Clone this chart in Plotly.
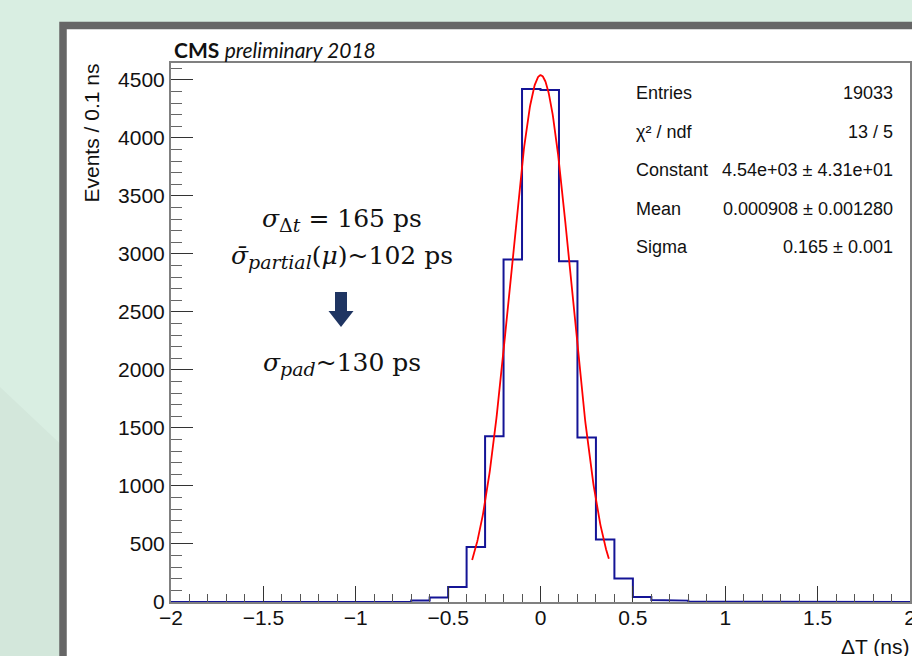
import numpy as np
import plotly.graph_objects as go

# ---------------- data ----------------
bin_width = 0.1
hist_range = [-2.0, 2.0]
bin_left_edges = [-0.9, -0.8, -0.7, -0.6, -0.5, -0.4, -0.3, -0.2, -0.1,
                  0.0, 0.1, 0.2, 0.3, 0.4, 0.5, 0.6, 0.7, 0.8]
bin_counts = [1, 3, 14, 38, 129, 474, 1428, 2952, 4422,
              4412, 2937, 1417, 538, 202, 43, 17, 12, 2]

fit_constant = 4540.0
fit_mean = 0.000908
fit_sigma = 0.165
fit_range = [-0.37, 0.37]

x_tickvals = [-2, -1.5, -1, -0.5, 0, 0.5, 1, 1.5, 2]
x_ticktext = ["\u22122", "\u22121.5", "\u22121", "\u22120.5", "0", "0.5", "1", "1.5", "2"]
y_tickvals = [0, 500, 1000, 1500, 2000, 2500, 3000, 3500, 4000, 4500]
y_max = 4645

stats_labels = ["Entries", "\u03c7\u00b2 / ndf", "Constant", "Mean", "Sigma"]
stats_values = ["19033", "13 / 5", "4.54e+03 \u00b1 4.31e+01",
                "0.000908 \u00b1 0.001280", "0.165 \u00b1 0.001"]

SUB = '<sub><span style="font-size:19px">{}</span></sub>'
note_lines = [
    "<i>\u03c3</i>" + SUB.format("\u0394<i>t</i>") + " = 165 ps",
    "<i>\u03c3\u0304</i>" + SUB.format("<i>partial</i>") + "(<i>\u03bc</i>)~102 ps",
    "<i>\u03c3</i>" + SUB.format("<i>pad</i>") + "~130 ps",
]

# ---------------- layout geometry (pixels) ----------------
W, H = 912, 656
L, R, T, B = 171, 2, 63, 54
PW, PH = W - L - R, H - T - B


def px(x):
    return (x - L) / PW


def py(y):
    return (H - B - y) / PH


# ---------------- build step histogram over full range ----------------
n_bins = int(round((hist_range[1] - hist_range[0]) / bin_width))
edges = [round(hist_range[0] + i * bin_width, 3) for i in range(n_bins + 1)]
counts_full = [0] * n_bins
for le, c in zip(bin_left_edges, bin_counts):
    idx = int(round((le - hist_range[0]) / bin_width))
    counts_full[idx] = c
step_x = [edges[0]]
step_y = [0]
for i in range(n_bins):
    step_x += [edges[i], edges[i + 1]]
    step_y += [counts_full[i], counts_full[i]]
step_x.append(edges[-1])
step_y.append(0)

fit_x = np.linspace(fit_range[0], fit_range[1], 300)
fit_y = fit_constant * np.exp(-0.5 * ((fit_x - fit_mean) / fit_sigma) ** 2)

fig = go.Figure()
fig.add_trace(go.Scatter(x=step_x, y=step_y, mode="lines",
                         line=dict(color="#141496", width=2),
                         hoverinfo="skip", showlegend=False))
fig.add_trace(go.Scatter(x=fit_x, y=fit_y, mode="lines",
                         line=dict(color="#ff0000", width=1.8),
                         hoverinfo="skip", showlegend=False))

axis_font = dict(family="Liberation Sans, Arial, sans-serif", size=21, color="#111111")

fig.update_xaxes(range=hist_range, tickvals=x_tickvals, ticktext=x_ticktext,
                 ticks="inside", ticklen=16, tickwidth=1.2, tickcolor="#333333",
                 minor=dict(dtick=0.1, ticks="inside", ticklen=8, tickcolor="#555555", tickwidth=1),
                 showline=True, linecolor="#808080", linewidth=2, mirror=True,
                 showgrid=False, zeroline=False, tickfont=axis_font, ticklabelstandoff=-4,
                 ticklabeloverflow="allow", automargin=False)
fig.update_yaxes(range=[0, y_max], tickvals=y_tickvals,
                 ticks="inside", ticklen=22, tickwidth=1.2, tickcolor="#333333",
                 minor=dict(dtick=100, ticks="inside", ticklen=11, tickcolor="#666666", tickwidth=1),
                 showline=True, linecolor="#808080", linewidth=2, mirror=True,
                 showgrid=False, zeroline=False, tickfont=axis_font, automargin=False)

shapes = []
# lighter background region
shapes.append(dict(type="path", xref="paper", yref="paper", layer="below",
                   path="M {} {} L {} {} L {} {} L {} {} L {} {} L {} {} Z".format(
                       px(0), py(0), px(W), py(0), px(W), py(26), px(70), py(26),
                       px(70), py(453), px(0), py(387)),
                   fillcolor="#d9eee2", line=dict(width=0)))
# white canvas with dark grey frame
shapes.append(dict(type="rect", xref="paper", yref="paper", layer="below",
                   x0=px(63), x1=px(940), y0=py(25.5), y1=py(700),
                   fillcolor="white", line=dict(color="#666666", width=7.5)))
# down arrow
ax_c = 341
shapes.append(dict(type="path", xref="paper", yref="paper",
                   path="M {} {} L {} {} L {} {} L {} {} L {} {} L {} {} L {} {} Z".format(
                       px(ax_c - 6), py(292), px(ax_c + 6), py(292), px(ax_c + 6), py(311),
                       px(ax_c + 12.5), py(311), px(ax_c), py(327), px(ax_c - 12.5), py(311),
                       px(ax_c - 6), py(311)),
                   fillcolor="#1f3562", line=dict(width=0)))

annotations = []
annotations.append(dict(xref="paper", yref="paper", x=px(172), y=py(50), xanchor="left", yanchor="middle",
                        showarrow=False,
                        text="<b>CMS</b> <i>preliminary 2018</i>",
                        font=dict(family="Lato, Open Sans, sans-serif", size=21, color="#111111")))
annotations.append(dict(xref="paper", yref="paper", x=px(91), y=py(62), xanchor="center", yanchor="top",
                        textangle=-90, showarrow=False, text="Events / 0.1 ns", font=axis_font))
annotations.append(dict(xref="paper", yref="paper", x=px(911), y=py(646), xanchor="right", yanchor="middle",
                        showarrow=False, text="\u0394T (ns)", font=axis_font))

stat_font = dict(family="Liberation Sans, Arial, sans-serif", size=18, color="#111111")
row_y = [93, 131.5, 170, 208.5, 247]
for lab, val, ry in zip(stats_labels, stats_values, row_y):
    annotations.append(dict(xref="paper", yref="paper", x=px(634), y=py(ry), xanchor="left", yanchor="middle",
                            showarrow=False, text=lab, font=stat_font))
    annotations.append(dict(xref="paper", yref="paper", x=px(895), y=py(ry), xanchor="right", yanchor="middle",
                            showarrow=False, text=val, font=stat_font))

note_font = dict(family="DejaVu Serif, serif", size=25, color="#111111")
for txt, ny in zip(note_lines, [220, 257, 364]):
    annotations.append(dict(xref="paper", yref="paper", x=px(342), y=py(ny), xanchor="center", yanchor="middle",
                            showarrow=False, text=txt, font=note_font))

fig.update_layout(width=W, height=H, margin=dict(l=L, r=R, t=T, b=B, pad=0, autoexpand=False),
                  paper_bgcolor="#d3e7db", plot_bgcolor="rgba(0,0,0,0)",
                  shapes=shapes, annotations=annotations, showlegend=False)

fig.write_html("out.html", config={"displayModeBar": False},
               post_script="document.body.style.margin='0';document.body.style.padding='0';"
                           "document.body.style.overflow='hidden';")
